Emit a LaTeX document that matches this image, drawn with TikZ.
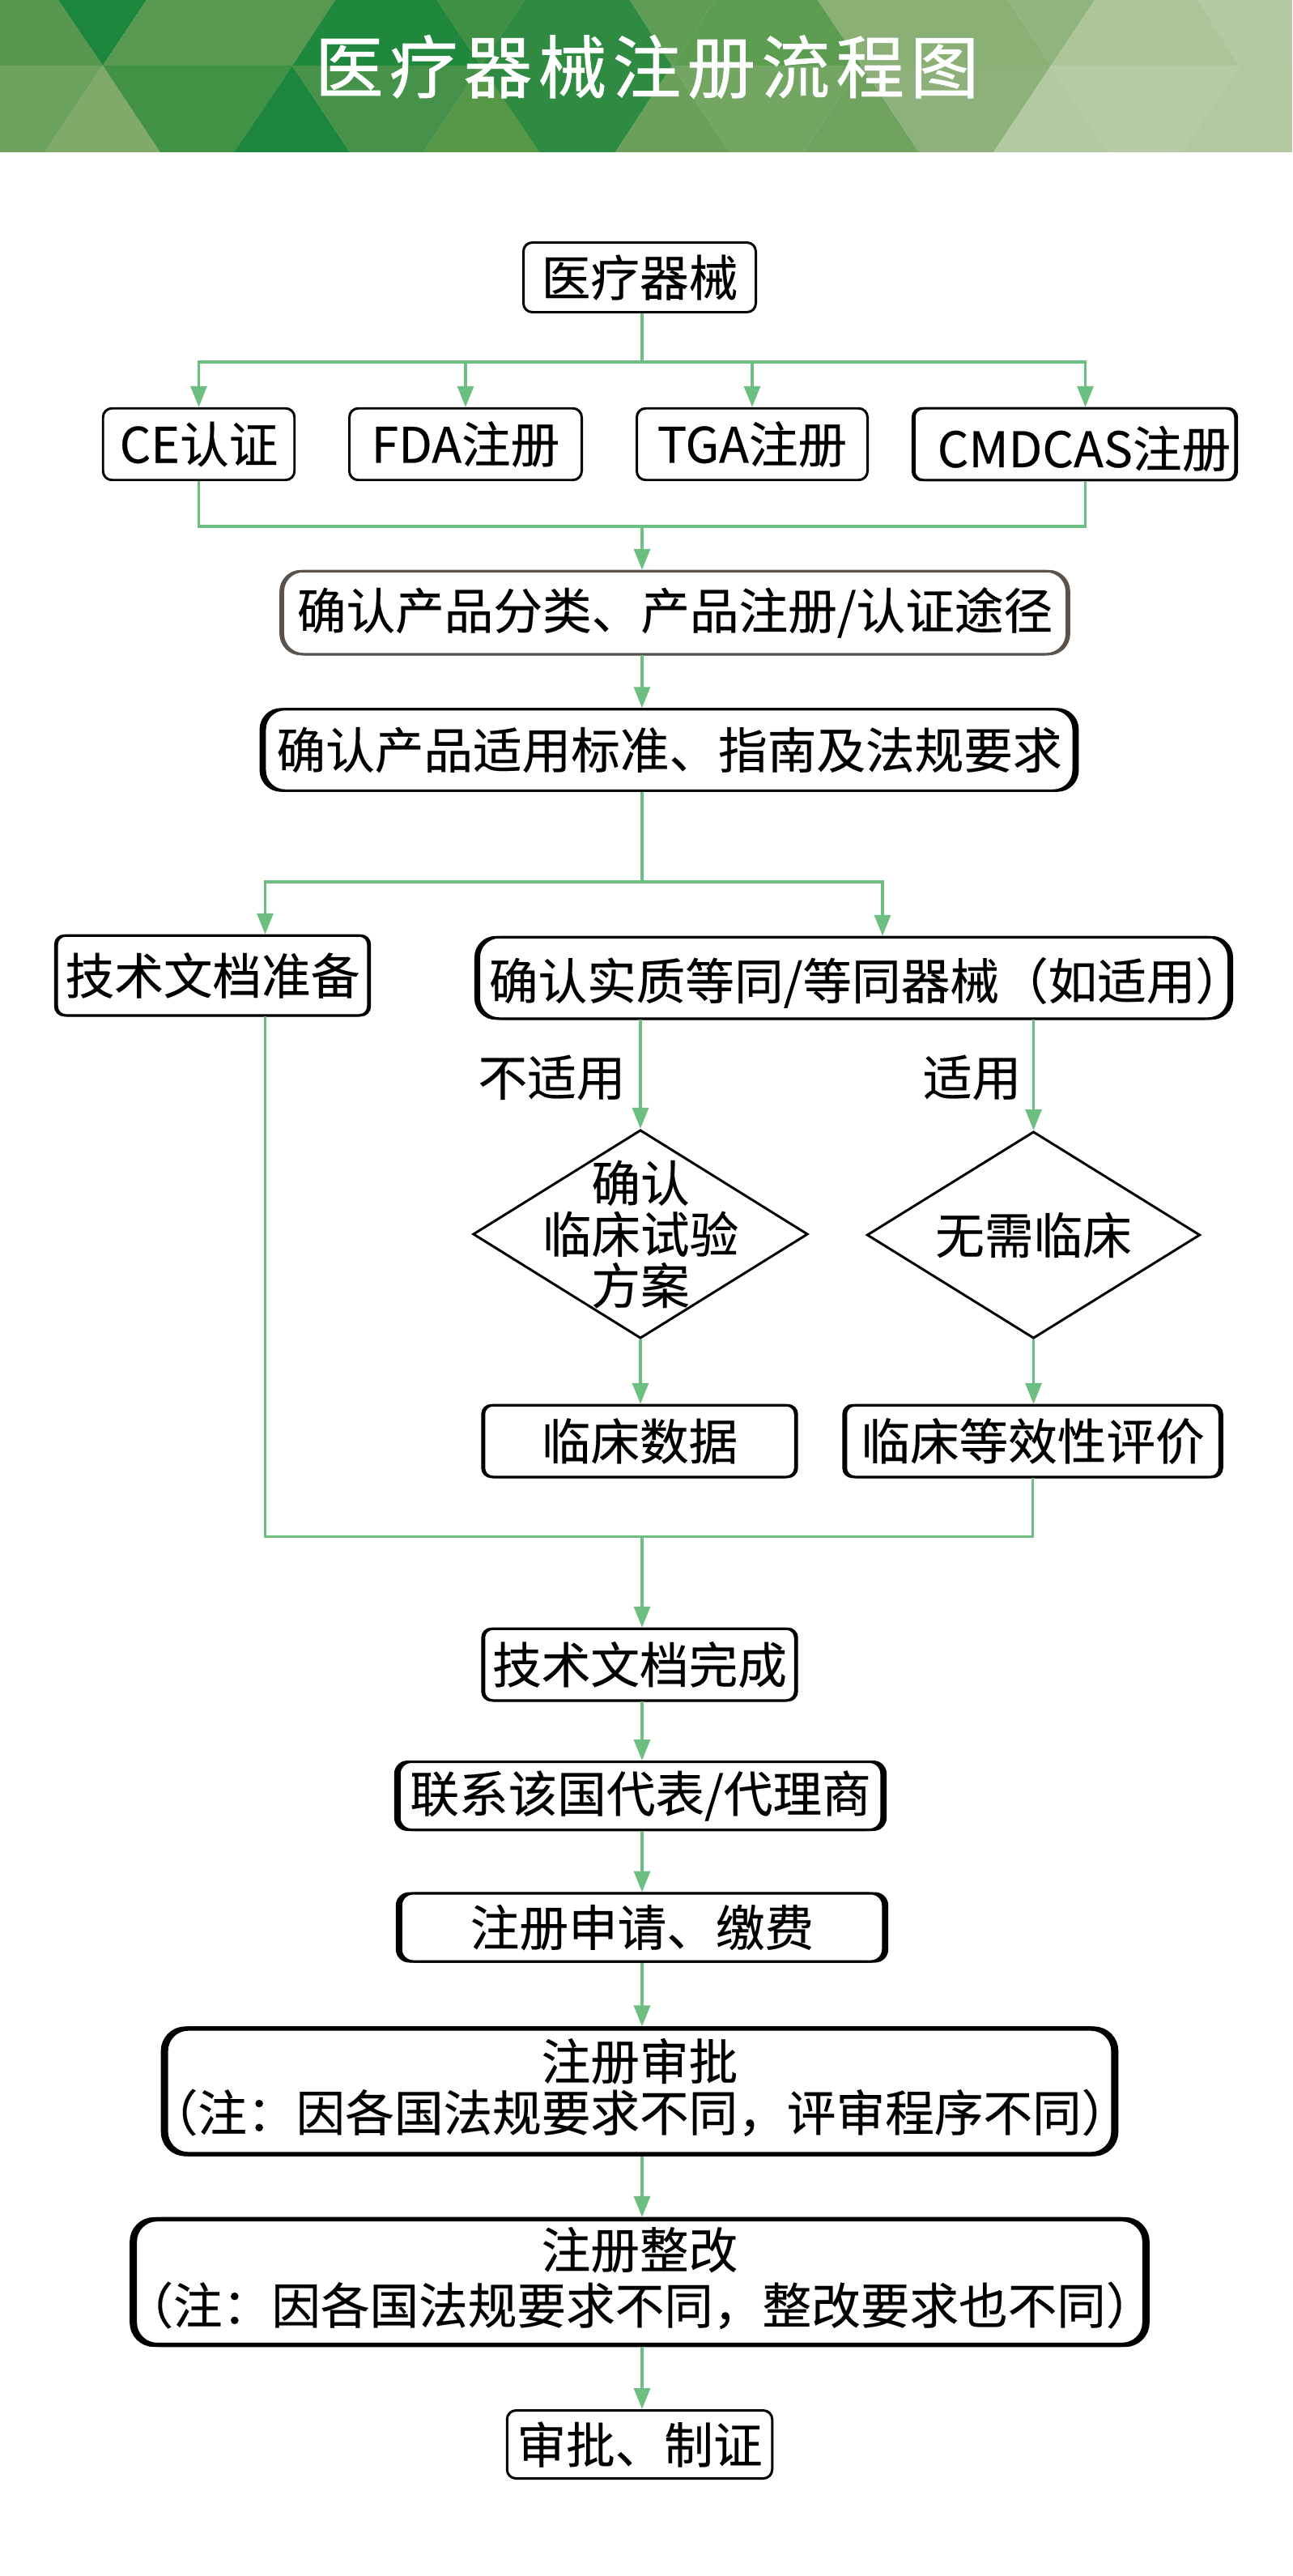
\documentclass[tikz,border=0pt]{standalone}
\usepackage{fontspec}
\setmainfont[FakeBold=0.3]{Noto Sans CJK SC}
\newfontfamily\titlefont[LetterSpace=9,FakeBold=1]{Noto Sans CJK SC}
\usetikzlibrary{arrows.meta,shapes.geometric}
\definecolor{flowgreen}{HTML}{6CBF80}
\definecolor{boxgrey}{HTML}{5A524D}
\newcommand{\facet}[2]{\definecolor{facetcolor}{HTML}{#1}\fill[facetcolor] #2 -- cycle;}
\tikzset{
  bodytext/.style={font=\fontsize{34.5}{36}\selectfont, align=center, inner sep=0pt},
  flowbox/.style={bodytext, draw, fill=white, line width=1.7pt, rounded corners=0.22cm},
  sidebox/.style={flowbox, preaction={draw, fill=black, transform canvas={xshift=#1}}, preaction={draw, fill=black, transform canvas={xshift=-#1}}},
  bigbox/.style={sidebox=2.1pt, line width=3pt, rounded corners=0.55cm},
  choice/.style={bodytext, diamond, draw, fill=white, line width=1.7pt, aspect=1.6},
  flowline/.style={draw=flowgreen, line width=1.9pt},
  flowarrow/.style={flowline, -{Triangle[length=0.52cm,width=0.4cm]}}
}
\begin{document}
\begin{tikzpicture}
\useasboundingbox (0,0) rectangle (31.92,-63.62);
\fill[white] (0,0) rectangle (31.92,-63.62);

% title band
\begin{scope}[x=0.2mm,y=-0.2mm]
  \facet{589750}{(0,0) -- (72,0) -- (127,81) -- (0,81)}
  \facet{6CA25D}{(0,81) -- (127,81) -- (55,188) -- (0,188)}
  \facet{1C873C}{(72,0) -- (181,0) -- (127,81)}
  \facet{7FAA6A}{(127,81) -- (55,188) -- (198,188)}
  \facet{599850}{(181,0) -- (414,0) -- (361,81) -- (127,81)}
  \facet{419245}{(127,81) -- (361,81) -- (289,188) -- (198,188)}
  \facet{1C873C}{(361,81) -- (432,188) -- (289,188)}
  \facet{1F883D}{(414,0) -- (540,0) -- (594,81) -- (361,81)}
  \facet{46924A}{(361,81) -- (594,81) -- (523,188) -- (432,188)}
  \facet{3F8F45}{(540,0) -- (648,0) -- (594,81)}
  \facet{569848}{(594,81) -- (523,188) -- (666,188)}
  \facet{2F8A42}{(648,0) -- (778,0) -- (830,81) -- (594,81)}
  \facet{2F8A42}{(594,81) -- (830,81) -- (760,188) -- (666,188)}
  \facet{609C55}{(778,0) -- (883,0) -- (830,81)}
  \facet{6AA05A}{(830,81) -- (760,188) -- (902,188)}
  \facet{5D9D52}{(883,0) -- (1010,0) -- (1064,81) -- (830,81)}
  \facet{72A662}{(830,81) -- (1064,81) -- (992,188) -- (902,188)}
  \facet{8AB076}{(1010,0) -- (1245,0) -- (1298,81) -- (1064,81)}
  \facet{6FA35F}{(1064,81) -- (992,188) -- (1135,188)}
  \facet{8EB07B}{(1064,81) -- (1298,81) -- (1227,188) -- (1135,188)}
  \facet{91B37D}{(1245,0) -- (1352,0) -- (1298,81)}
  \facet{B3C9A2}{(1298,81) -- (1227,188) -- (1370,188)}
  \facet{AEC59A}{(1352,0) -- (1480,0) -- (1531,81) -- (1298,81)}
  \facet{B6CBA6}{(1298,81) -- (1531,81) -- (1459,188) -- (1370,188)}
  \facet{B4C9A3}{(1480,0) -- (1596,0) -- (1596,81) -- (1531,81)}
  \facet{B3C8A0}{(1531,81) -- (1596,81) -- (1596,188) -- (1459,188)}
\end{scope}
\node (title) at (15.98,-1.65) [text=white, inner sep=0pt, font=\titlefont\fontsize{48}{50}\selectfont] {医疗器械注册流程图};

% boxes, top to bottom
\node (med) at (15.80,-6.85) [flowbox, minimum width=5.74cm, minimum height=1.72cm] {医疗器械};
\node (ce) at (4.91,-10.97) [flowbox, minimum width=4.73cm, minimum height=1.77cm] {CE认证};
\node (fda) at (11.50,-10.97) [flowbox, minimum width=5.74cm, minimum height=1.77cm] {FDA注册};
\node (tga) at (18.58,-10.97) [flowbox, minimum width=5.70cm, minimum height=1.77cm] {TGA注册};
\node (cmd) at (26.55,-10.97) [sidebox=1.1pt, minimum width=7.93cm, minimum height=1.77cm, label={[bodytext,xshift=0.23cm,yshift=-0.11cm]center:CMDCAS注册}] {};
\node (cat) at (16.67,-15.13) [sidebox=1.6pt, draw=boxgrey, rounded corners=0.5cm, minimum width=19.36cm, minimum height=2.05cm] {确认产品分类、产品注册/认证途径};
\node (std) at (16.53,-18.52) [sidebox=2.8pt, rounded corners=0.5cm, minimum width=19.98cm, minimum height=2.01cm] {确认产品适用标准、指南及法规要求};
\node (prep) at (5.25,-24.09) [sidebox=1.1pt, minimum width=7.69cm, minimum height=1.97cm] {技术文档准备};
\node (equ) at (21.09,-24.15) [sidebox=2.3pt, rounded corners=0.5cm, minimum width=18.52cm, minimum height=2.01cm, label={[bodytext,xshift=0.32cm,yshift=-0.12cm]center:确认实质等同/等同器械（如适用）}] {};
\node (nolabel) at (13.63,-26.61) [bodytext] {不适用};
\node (yeslabel) at (24.01,-26.61) [bodytext] {适用};
\node (trial) at (15.82,-30.48) [choice, minimum width=8.27cm, minimum height=5.15cm, label={[bodytext]center:确认\\临床试验\\方案}] {};
\node (noneed) at (25.53,-30.50) [choice, minimum width=8.23cm, minimum height=5.11cm, label={[bodytext]center:无需临床}] {};
\node (cdata) at (15.80,-35.59) [sidebox=1.1pt, minimum width=7.69cm, minimum height=1.77cm] {临床数据};
\node (ceval) at (25.51,-35.59) [sidebox=1.7pt, minimum width=9.23cm, minimum height=1.77cm] {临床等效性评价};
\node (done) at (15.80,-41.11) [sidebox=1.1pt, minimum width=7.69cm, minimum height=1.77cm] {技术文档完成};
\node (agent) at (15.82,-44.35) [sidebox=2.8pt, rounded corners=0.3cm, minimum width=11.91cm, minimum height=1.68cm] {联系该国代表/代理商};
\node (apply) at (15.86,-47.60) [sidebox=2.8pt, rounded corners=0.3cm, minimum width=11.91cm, minimum height=1.68cm] {注册申请、缴费};
\node (review) at (15.80,-51.65) [bigbox, minimum width=23.4cm, minimum height=3.10cm, label={[bodytext,yshift=0.1cm]center:注册审批\\（注：因各国法规要求不同，评审程序不同）}] {};
\node (revise) at (15.80,-56.36) [bigbox, minimum width=24.94cm, minimum height=3.10cm, label={[bodytext,yshift=0.1cm]center:注册整改\\[3pt]（注：因各国法规要求不同，整改要求也不同）}] {};
\node (issue) at (15.80,-60.37) [flowbox, minimum width=6.55cm, minimum height=1.68cm] {审批、制证};

% turning points of the connectors
\coordinate (split1) at (15.86,-8.94);
\coordinate (merge1) at (15.86,-13.00);
\coordinate (cmdx) at (26.81,-13.00);
\coordinate (split2) at (15.86,-21.78);
\coordinate (prepx) at (6.55,-21.78);
\coordinate (equx) at (21.80,-21.78);
\coordinate (merge2) at (15.86,-37.95);

% connectors
\draw[flowline] (split1 |- med.south) -- (split1);
\draw[flowarrow] (split1) -| (ce.north);
\draw[flowarrow] (split1) -| (fda.north);
\draw[flowarrow] (split1) -| (tga.north);
\draw[flowarrow] (split1) -| (cmdx |- cmd.north);
\draw[flowline] (ce.south) |- (merge1) -| (cmdx |- cmd.south);
\draw[flowarrow] (merge1) -- (merge1 |- cat.north);
\draw[flowarrow] (merge1 |- cat.south) -- (merge1 |- std.north);
\draw[flowline] (split2 |- std.south) -- (split2);
\draw[flowarrow] (split2) -- (prepx) -- (prepx |- prep.north);
\draw[flowarrow] (split2) -- (equx) -- (equx |- equ.north);
\draw[flowarrow] (trial.north |- equ.south) -- (trial.north);
\draw[flowarrow] (noneed.north |- equ.south) -- (noneed.north);
\draw[flowarrow] (trial.south) -- (trial.south |- cdata.north);
\draw[flowarrow] (noneed.south) -- (noneed.south |- ceval.north);
\draw[flowline] (prepx |- prep.south) |- (merge2) -| (ceval.south);
\draw[flowarrow] (merge2) -- (merge2 |- done.north);
\draw[flowarrow] (merge2 |- done.south) -- (merge2 |- agent.north);
\draw[flowarrow] (merge2 |- agent.south) -- (merge2 |- apply.north);
\draw[flowarrow] (merge2 |- apply.south) -- (merge2 |- review.north);
\draw[flowarrow] (merge2 |- review.south) -- (merge2 |- revise.north);
\draw[flowarrow] (merge2 |- revise.south) -- (merge2 |- issue.north);
\end{tikzpicture}
\end{document}
